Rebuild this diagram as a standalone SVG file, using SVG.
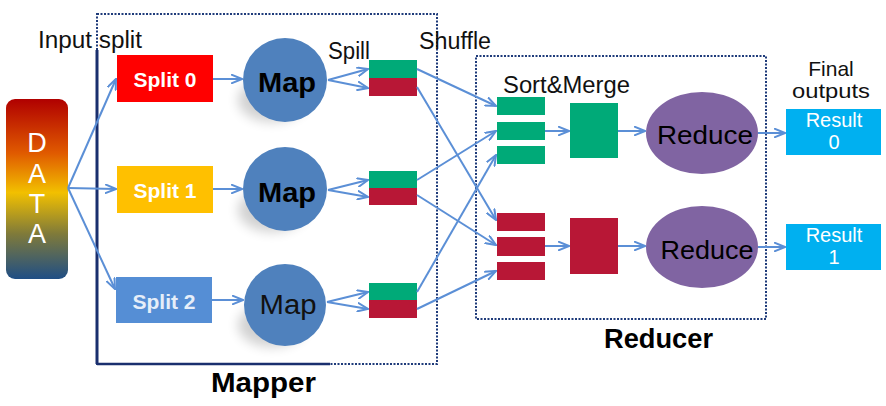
<svg xmlns="http://www.w3.org/2000/svg" width="886" height="406" viewBox="0 0 886 406">
<defs>
<linearGradient id="dataGrad" x1="0" y1="0" x2="0" y2="1">
<stop offset="0" stop-color="#b00000"/>
<stop offset="0.3" stop-color="#e05a00"/>
<stop offset="0.52" stop-color="#f2c000"/>
<stop offset="0.75" stop-color="#7f7a3a"/>
<stop offset="1" stop-color="#1f4e85"/>
</linearGradient>
<filter id="blur" x="-50%" y="-50%" width="200%" height="200%"><feGaussianBlur stdDeviation="6"/></filter>
<marker id="arr" viewBox="0 0 12 10" refX="11" refY="5" markerWidth="12" markerHeight="10" markerUnits="userSpaceOnUse" orient="auto">
<path d="M0,0.5 L11,5 L0,9.5" fill="none" stroke="#5b8fd6" stroke-width="2"/>
</marker>
<style>
.t{font-family:"Liberation Sans",Arial,sans-serif;}
.lbl{font-size:23px;fill:#111;}
.conn line{stroke:#5b8fd6;stroke-width:2;marker-end:url(#arr);}
.map{fill:#4f81bd;}
.grn{fill:#00aa78;}
.red{fill:#b81736;}
.res{fill:#00b0f0;}
.red2{fill:#8064a2;}
.wt{fill:#fff;}
.frame{fill:none;stroke:#1f3b7a;stroke-width:2;stroke-dasharray:2 1.5;}
</style>
</defs>
<rect width="886" height="406" fill="#fff"/>

<!-- frames -->
<g id="mapper-frame">
<rect class="frame" x="97" y="14" width="340" height="350"/>
<line x1="97" y1="50" x2="97" y2="364" stroke="#1a2f6e" stroke-width="3"/>
<line x1="97" y1="364" x2="330" y2="364" stroke="#1a2f6e" stroke-width="2.5"/>
<text class="t" x="211" y="392" font-size="28" font-weight="bold" textLength="105" lengthAdjust="spacingAndGlyphs">Mapper</text>
</g>
<g id="reducer-frame">
<rect class="frame" x="476" y="56" width="290" height="263"/>
<text class="t" x="604" y="348" font-size="27" font-weight="bold" textLength="109" lengthAdjust="spacingAndGlyphs">Reducer</text>
</g>

<!-- labels -->
<g id="labels" class="t lbl">
<text x="38" y="48" textLength="104" lengthAdjust="spacingAndGlyphs">Input split</text>
<text x="328" y="59" textLength="42" lengthAdjust="spacingAndGlyphs">Spill</text>
<text x="419" y="49" textLength="72" lengthAdjust="spacingAndGlyphs">Shuffle</text>
<text x="503" y="93" textLength="127" lengthAdjust="spacingAndGlyphs">Sort&amp;Merge</text>
<text x="831" y="76" text-anchor="middle" font-size="21">Final</text>
<text x="831" y="98" text-anchor="middle" font-size="21" textLength="78" lengthAdjust="spacingAndGlyphs">outputs</text>
</g>

<!-- shadows -->
<g id="shadows" filter="url(#blur)" fill="#000" opacity="0.18">
<ellipse cx="272" cy="100" rx="34" ry="22"/>
<ellipse cx="272" cy="210" rx="34" ry="22"/>
<ellipse cx="272" cy="325" rx="34" ry="22"/>
</g>

<g id="data">
<rect x="6" y="99" width="62" height="180" rx="9" fill="url(#dataGrad)"/>
<g class="t wt" font-size="27" text-anchor="middle">
<text x="37" y="152">D</text>
<text x="37" y="183">A</text>
<text x="37" y="213">T</text>
<text x="37" y="243">A</text>
</g>
</g>

<g id="split0"><rect x="117" y="55" width="96" height="47" fill="#ff0000"/><text class="t wt" x="165" y="87" font-size="21" font-weight="bold" text-anchor="middle">Split 0</text></g>
<g id="split1"><rect x="117" y="166" width="96" height="47" fill="#ffc000"/><text class="t wt" x="165" y="198" font-size="21" font-weight="bold" text-anchor="middle">Split 1</text></g>
<g id="split2"><rect x="116" y="277" width="96" height="46" fill="#558ed5"/><text class="t" x="164" y="309" font-size="21" font-weight="bold" fill="#e6eef9" text-anchor="middle">Split 2</text></g>

<g id="map0"><circle class="map" cx="285" cy="80" r="42"/><text class="t" x="287" y="92" font-size="27" font-weight="bold" text-anchor="middle" fill="#000" textLength="58" lengthAdjust="spacingAndGlyphs">Map</text></g>
<g id="map1"><circle class="map" cx="285" cy="189" r="42"/><text class="t" x="287" y="202" font-size="27" font-weight="bold" text-anchor="middle" fill="#000" textLength="58" lengthAdjust="spacingAndGlyphs">Map</text></g>
<g id="map2"><circle class="map" cx="285" cy="305" r="41"/><text class="t" x="288" y="314" font-size="27" text-anchor="middle" fill="#111" textLength="57" lengthAdjust="spacingAndGlyphs">Map</text></g>

<g id="spill0"><rect class="grn" x="369" y="60" width="48" height="18"/><rect class="red" x="369" y="78" width="48" height="18"/></g>
<g id="spill1"><rect class="grn" x="369" y="171" width="48" height="17"/><rect class="red" x="369" y="188" width="48" height="17"/></g>
<g id="spill2"><rect class="grn" x="369" y="283" width="48" height="17"/><rect class="red" x="369" y="300" width="48" height="18"/></g>

<g id="sort-green">
<rect class="grn" x="497" y="97" width="48" height="18"/>
<rect class="grn" x="497" y="122" width="48" height="18"/>
<rect class="grn" x="497" y="146" width="48" height="18"/>
</g>
<g id="sort-red">
<rect class="red" x="497" y="213" width="48" height="18"/>
<rect class="red" x="497" y="237" width="48" height="19"/>
<rect class="red" x="497" y="262" width="48" height="18"/>
</g>
<g id="merge-green"><rect class="grn" x="570" y="103" width="48" height="55"/></g>
<g id="merge-red"><rect class="red" x="570" y="218" width="48" height="56"/></g>

<g id="reduce0"><ellipse class="red2" cx="702" cy="133" rx="56" ry="41"/><text class="t" x="705" y="144" font-size="26" text-anchor="middle" fill="#000" textLength="96" lengthAdjust="spacingAndGlyphs">Reduce</text></g>
<g id="reduce1"><ellipse class="red2" cx="702" cy="247" rx="56" ry="41"/><text class="t" x="707" y="259" font-size="26" text-anchor="middle" fill="#000" textLength="93" lengthAdjust="spacingAndGlyphs">Reduce</text></g>

<g id="result0"><rect class="res" x="786" y="109" width="95" height="46"/><g class="t wt" font-size="20" text-anchor="middle"><text x="834" y="127">Result</text><text x="834" y="149">0</text></g></g>
<g id="result1"><rect class="res" x="786" y="224" width="95" height="46"/><g class="t wt" font-size="20" text-anchor="middle"><text x="834" y="242">Result</text><text x="834" y="264">1</text></g></g>

<g id="connectors" class="conn">
<line x1="68" y1="188" x2="116" y2="79"/>
<line x1="68" y1="188" x2="116" y2="189"/>
<line x1="68" y1="188" x2="115" y2="289"/>
<line x1="213" y1="79" x2="242" y2="79"/>
<line x1="213" y1="189" x2="242" y2="189"/>
<line x1="212" y1="300" x2="243" y2="300"/>
<line x1="328" y1="80" x2="368" y2="69"/>
<line x1="328" y1="80" x2="368" y2="88"/>
<line x1="328" y1="190" x2="368" y2="180"/>
<line x1="328" y1="190" x2="368" y2="197"/>
<line x1="327" y1="302" x2="368" y2="292"/>
<line x1="327" y1="302" x2="368" y2="309"/>
<line x1="417" y1="69" x2="496" y2="106"/>
<line x1="417" y1="87" x2="496" y2="220"/>
<line x1="417" y1="180" x2="496" y2="131"/>
<line x1="417" y1="195" x2="496" y2="245"/>
<line x1="417" y1="292" x2="496" y2="155"/>
<line x1="417" y1="309" x2="496" y2="271"/>
<line x1="545" y1="131" x2="569" y2="131"/>
<line x1="545" y1="246" x2="569" y2="246"/>
<line x1="618" y1="131" x2="645" y2="131"/>
<line x1="618" y1="246" x2="645" y2="246"/>
<line x1="758" y1="133" x2="785" y2="133"/>
<line x1="758" y1="247" x2="785" y2="247"/>
</g>
</svg>
